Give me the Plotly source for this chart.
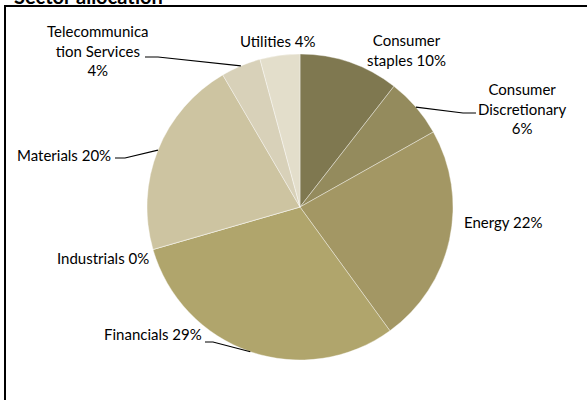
import math
import plotly.graph_objects as go

# ---- data ----
sectors = ["Consumer staples", "Consumer Discretionary", "Energy", "Financials",
           "Industrials", "Materials", "Telecommunication Services", "Utilities"]
weights = [10, 6, 22, 29, 0, 20, 4, 4]
label_texts = ["Consumer<br>staples 10%", "Consumer<br>Discretionary<br>6%", "Energy 22%",
               "Financials 29%", "Industrials 0%", "Materials 20%",
               "Telecommunica<br>tion Services<br>4%", "Utilities 4%"]
colors = ["#7f7850", "#948b5d", "#a39764", "#b0a56c", "#bdb385", "#cdc4a1", "#d8d1b9", "#e3decb"]
title_text = "Sector allocation"

W, H = 587, 400
CX, CY, R = 300, 207, 153

def px(x):
    return x / W

def py(y):
    return 1 - y / H

fig = go.Figure()
fig.add_trace(go.Pie(
    labels=sectors, values=weights, sort=False, direction="clockwise", rotation=0,
    marker=dict(colors=colors, line=dict(color="rgba(255,255,255,0.55)", width=0.7)),
    textinfo="none", hoverinfo="label+value", showlegend=False,
    domain=dict(x=[px(CX - R), px(CX + R)], y=[py(CY + R), py(CY - R)]),
))

# label placement (pixel centres) and optional leader elbows
label_pos = {
    "Consumer staples": (406, 50),
    "Consumer Discretionary": (522, 109),
    "Energy": (503, 222),
    "Financials": (153, 334),
    "Industrials": (103, 258),
    "Materials": (64, 155),
    "Telecommunication Services": (98, 50),
    "Utilities": (277, 41),
}
leaders = {
    "Consumer Discretionary": [(476, 113), (463, 113)],
    "Financials": [(205, 342), (213, 342)],
    "Materials": [(115, 158), (125, 158)],
    "Telecommunication Services": [(145, 57), (158, 57)],
}

total = sum(weights)
cum = 0
annotations = []
shapes = []
for name, val, txt in zip(sectors, weights, label_texts):
    mid = (cum + val / 2) / total * 2 * math.pi
    cum += val
    ex = CX + R * math.sin(mid)
    ey = CY - R * math.cos(mid)
    lx, ly = label_pos[name]
    annotations.append(dict(
        x=px(lx), y=py(ly), xref="paper", yref="paper", text=txt, showarrow=False,
        xanchor="center", yanchor="middle", align="center",
        font=dict(family="Lato", size=15, color="#000000"),
    ))
    if name in leaders:
        pts = leaders[name] + [(ex, ey)]
        path = "M " + " L ".join(f"{px(a):.5f},{py(b):.5f}" for a, b in pts)
        shapes.append(dict(type="path", path=path, xref="paper", yref="paper",
                           line=dict(color="#000000", width=1.2)))

# frame
shapes.append(dict(type="rect", xref="paper", yref="paper",
                   x0=px(5), x1=1.05, y0=-0.05, y1=py(6),
                   line=dict(color="#000000", width=2), fillcolor="rgba(0,0,0,0)"))

annotations.append(dict(
    x=px(12), y=py(-4), xref="paper", yref="paper", text=f"<b>{title_text}</b>",
    showarrow=False, xanchor="left", yanchor="middle",
    font=dict(family="Lato", size=20, color="#000000"),
))

fig.update_layout(
    width=W, height=H, margin=dict(l=0, r=0, t=0, b=0),
    paper_bgcolor="white", plot_bgcolor="white",
    annotations=annotations, shapes=shapes,
)
fig.write_html("out.html")
